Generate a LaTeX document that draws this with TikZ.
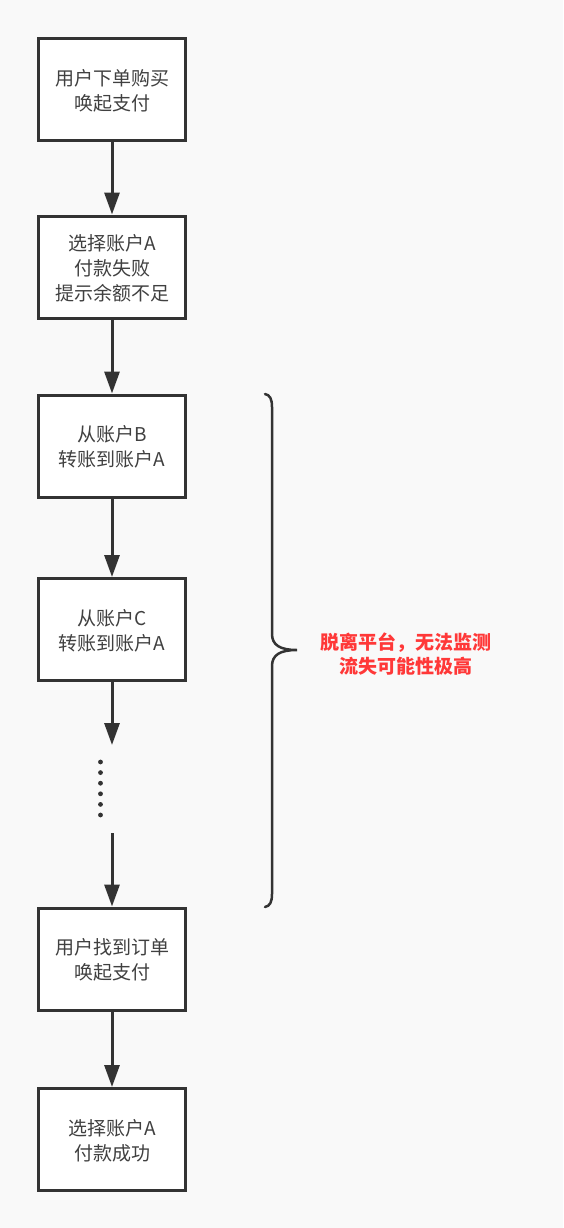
\documentclass[tikz,border=0pt]{standalone}
\usepackage{fontspec}
\setmainfont{Noto Sans CJK SC}
\usetikzlibrary{arrows.meta}
\definecolor{linegray}{RGB}{51,51,51}
\definecolor{textgray}{RGB}{64,64,64}
\definecolor{warnred}{RGB}{255,56,56}
\definecolor{paper}{RGB}{249,249,249}
\begin{document}
\begin{tikzpicture}
[x=1pt, y=-1pt,
 stepbox/.style={draw=linegray, line width=3pt, fill=white, minimum width=147pt, minimum height=102pt, inner sep=0pt, align=center, text=textgray, text depth=-4pt, font=\fontsize{19}{25}\selectfont},
 flow/.style={draw=linegray, line width=3pt, -{Triangle[length=22pt, width=15pt]}},
 flowline/.style={draw=linegray, line width=3pt}]
\useasboundingbox [fill=paper] (0,0) rectangle (563,1228);
\node [stepbox] (order) at (112,89.5) {用户下单购买\\唤起支付};
\node [stepbox] (failA) at (112,267) {选择账户A\\付款失败\\提示余额不足};
\node [stepbox] (fromB) at (112,446) {从账户B\\转账到账户A};
\node [stepbox] (fromC) at (112,629.5) {从账户C\\转账到账户A};
\node [stepbox] (found) at (112,959) {用户找到订单\\唤起支付};
\node [stepbox] (payA) at (112,1139.5) {选择账户A\\付款成功};
\coordinate (gapTop) at (112,745);
\coordinate (gapBot) at (112,833);
\draw [flow] (order) -- (failA);
\draw [flow] (failA) -- (fromB);
\draw [flow] (fromB) -- (fromC);
\draw [flow] (fromC) -- (gapTop);
\draw [flow] (gapBot) -- (found);
\draw [flow] (found) -- (payA);
% the dots
\foreach \k in {0,...,5}
  \fill [linegray] (100.5,762+10.6*\k) circle (2.4pt);
% brace
\draw [linegray, line width=2.5pt, line cap=round]
  (265,394) .. controls (270,395) and (272,399) .. (272,407) -- (272,634)
  .. controls (272,645) and (280,650) .. (297,650)
  .. controls (280,650) and (272,655) .. (272,666) -- (272,894)
  .. controls (272,902) and (270,906) .. (265,907);
\node [text=warnred, align=center, font=\fontsize{19}{24}\selectfont\bfseries] (warn) at (406,654) {脱离平台，无法监测\\流失可能性极高};
\end{tikzpicture}
\end{document}
